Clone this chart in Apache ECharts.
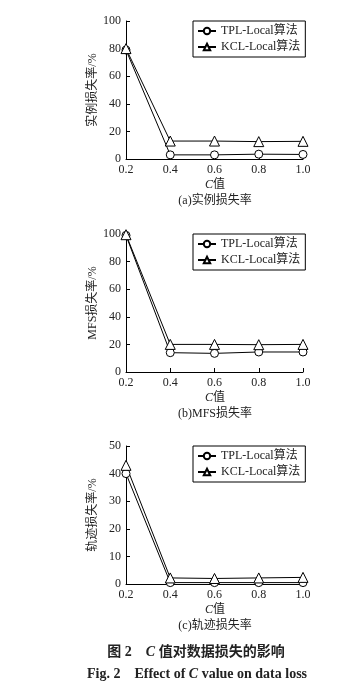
<!DOCTYPE html>
<html><head><meta charset="utf-8">
<script src="https://cdn.jsdelivr.net/npm/echarts@6/dist/echarts.min.js"></script>
<style>html,body{margin:0;padding:0;background:#fff}#c{width:363px;height:690px}</style>
</head><body><div id="c"></div>
<script>
var cValues = [0.2, 0.4, 0.6, 0.8, 1.0];
var seriesNames = ['TPL-Local算法', 'KCL-Local算法'];
// (a) instance loss rate
var tplInstance = [79, 3, 3, 3.5, 3.3];
var kclInstance = [80, 13, 13, 12.6, 12.8];
// (b) MFS loss rate
var tplMFS = [99, 14, 13.5, 14.5, 14.5];
var kclMFS = [99.5, 20, 20, 19.8, 20];
// (c) trajectory loss rate
var tplTraj = [40, 0.5, 0.5, 0.5, 0.5];
var kclTraj = [43, 2.2, 2, 2.2, 2.4];
var yNames = ['实例损失率/%', 'MFS损失率/%', '轨迹损失率/%'];
var subTitles = ['(a)实例损失率', '(b)MFS损失率', '(c)轨迹损失率'];
var yMax = [100, 100, 50];
var yInterval = [20, 20, 10];

var FONT = '"Liberation Serif","Times New Roman","Noto Sans CJK SC",serif';
var TXT = '#222';
var tops = [21, 234, 446];
var option = {backgroundColor: '#fff', animation: false, grid: [], xAxis: [], yAxis: [], series: [], legend: [], graphic: []};
var data = [[tplInstance, kclInstance], [tplMFS, kclMFS], [tplTraj, kclTraj]];
var syms = ['circle', 'triangle'];
for (var i = 0; i < 3; i++) {
  option.grid.push({left: 126, width: 177, top: tops[i], height: 138});
  option.xAxis.push({type: 'value', gridIndex: i, min: 0.2, max: 1.0, interval: 0.2,
    axisLine: {lineStyle: {color: '#000', width: 1}},
    axisTick: {inside: true, length: 4, lineStyle: {color: '#000'}},
    splitLine: {show: false},
    axisLabel: {color: TXT, fontFamily: FONT, fontSize: 12, margin: 5, formatter: function (v) { return v.toFixed(1); }}
  });
  option.yAxis.push({type: 'value', gridIndex: i, min: 0, max: yMax[i], interval: yInterval[i],
    name: yNames[i], nameLocation: 'middle', nameGap: 27, nameRotate: 90,
    nameTextStyle: {color: TXT, fontFamily: FONT, fontSize: 12},
    axisLine: {show: true, lineStyle: {color: '#000', width: 1}},
    axisTick: {show: true, inside: true, length: 4, lineStyle: {color: '#000'}},
    splitLine: {show: false},
    axisLabel: {color: TXT, fontFamily: FONT, fontSize: 12, margin: 5}
  });
  for (var s = 0; s < 2; s++) {
    var pts = cValues.map(function (x, k) { return [x, data[i][s][k]]; });
    option.series.push({type: 'line', name: seriesNames[s], xAxisIndex: i, yAxisIndex: i, data: pts,
      symbol: syms[s], symbolSize: s === 0 ? 8 : 10, showAllSymbol: true,
      color: '#000',
      lineStyle: {color: '#000', width: 1},
      itemStyle: {color: '#fff', borderColor: '#000', borderWidth: 1}
    });
  }
  option.legend.push({data: seriesNames, orient: 'vertical', left: 193, top: tops[i],
    itemWidth: 18, itemHeight: 8, itemGap: 4, padding: [4, 5, 4, 4],
    borderColor: '#000', borderWidth: 1, backgroundColor: '#fff',
    textStyle: {color: TXT, fontFamily: FONT, fontSize: 12}, selectedMode: false});
  option.graphic.push({type: 'text', x: 205, y: tops[i] + 158,
    style: {text: '{i|C}值', fill: TXT, font: '12px ' + FONT,
      rich: {i: {fontStyle: 'italic', fontFamily: FONT, fontSize: 12, fill: TXT}}}});
  option.graphic.push({type: 'text', x: 215, y: tops[i] + 174,
    style: {text: subTitles[i], fill: TXT, font: '12px ' + FONT, textAlign: 'center'}});
}
option.graphic.push({type: 'text', x: 196, y: 645, style: {text: '图 2    {i|C} 值对数据损失的影响', fill: TXT, textAlign: 'center',
  font: 'bold 14px ' + FONT, rich: {i: {fontStyle: 'italic', fontWeight: 'bold', fontFamily: FONT, fontSize: 14, fill: TXT}}}});
option.graphic.push({type: 'text', x: 197, y: 667, style: {text: 'Fig. 2    Effect of {i|C} value on data loss', fill: TXT, textAlign: 'center',
  font: 'bold 14px ' + FONT, rich: {i: {fontStyle: 'italic', fontWeight: 'bold', fontFamily: FONT, fontSize: 14, fill: TXT}}}});
var chart = echarts.init(document.getElementById('c'), null, {renderer: 'canvas'});
chart.setOption(option);
</script></body></html>
